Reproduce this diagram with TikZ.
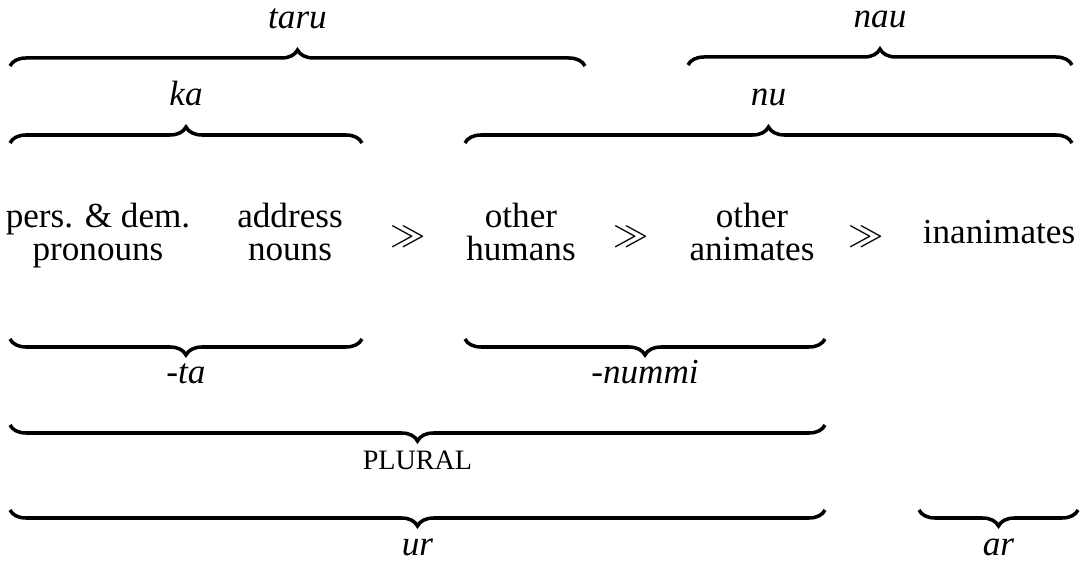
\documentclass[tikz,border=0pt]{standalone}
\usepackage{fontspec}
\setmainfont{Liberation Serif}
\usetikzlibrary{decorations.pathreplacing}

\tikzset{
  cover/.style={decorate, decoration={brace, amplitude=0.16cm}, line width=1pt},
  coverdown/.style={decorate, decoration={brace, mirror, amplitude=0.16cm}, line width=1pt},
  toplbl/.style={midway, anchor=base, inner sep=0pt, yshift=0.37cm, font=\itshape},
  botlbl/.style={midway, anchor=base, inner sep=0pt, yshift=-0.45cm, font=\itshape},
  cls/.style={align=center, inner sep=0pt, font={\fontsize{10pt}{9.4pt}\selectfont}},
  rank/.style={inner sep=0pt}
}

\begin{document}
\begin{tikzpicture}

    \useasboundingbox (0,0) rectangle (10.8,5.63);

    % upper braces
    \coordinate (taru) at (0.10,4.97);
    \coordinate (nau) at (6.88,4.98);
    \coordinate (ka) at (0.10,4.20);
    \coordinate (nu) at (4.65,4.20);

    \draw[cover] (taru) -- ++(5.75,0) node[toplbl] (taru-txt) {taru};
    \draw[cover] (nau) -- ++(3.84,0) node[toplbl] (nau-txt) {nau};
    \draw[cover] (ka) -- ++(3.52,0) node[toplbl] (ka-txt) {ka};
    \draw[cover] (nu) -- ++(6.07,0) node[toplbl] (nu-txt) {nu};

    % the hierarchy
    \node[cls] (pron) at (0.98,3.27) {pers. \& dem.\\pronouns};
    \node[cls] (addr) at (2.90,3.27) {address\\nouns\vphantom{p}};
    \node[rank] (gg1) at (4.08,3.26) {$\gg$};
    \node[cls] (hum) at (5.21,3.27) {other\\humans\vphantom{p}};
    \node[rank] (gg2) at (6.31,3.26) {$\gg$};
    \node[cls] (anim) at (7.52,3.27) {other\\animates\vphantom{p}};
    \node[rank] (gg3) at (8.66,3.26) {$\gg$};
    \node[cls] (inan) at (9.99,3.28) {inanimates\vphantom{dp}};

    % lower braces
    \coordinate (ta) at (0.10,2.24);
    \coordinate (nummi) at (4.65,2.24);
    \coordinate (pl) at (0.10,1.38);
    \coordinate (ur) at (0.10,0.53);
    \coordinate (ar) at (9.19,0.53);

    \draw[coverdown] (ta) -- ++(3.52,0) node[botlbl] (ta-txt) {-ta};
    \draw[coverdown] (nummi) -- ++(3.60,0) node[botlbl] (nummi-txt) {-nummi};
    \draw[coverdown] (pl) -- ++(8.15,0) node[botlbl, font=\fontsize{8pt}{9pt}\selectfont] (pl-txt) {PLURAL};
    \draw[coverdown] (ur) -- ++(8.15,0) node[botlbl] (ur-txt) {ur};
    \draw[coverdown] (ar) -- ++(1.59,0) node[botlbl] (ar-txt) {ar};

\end{tikzpicture}
\end{document}
